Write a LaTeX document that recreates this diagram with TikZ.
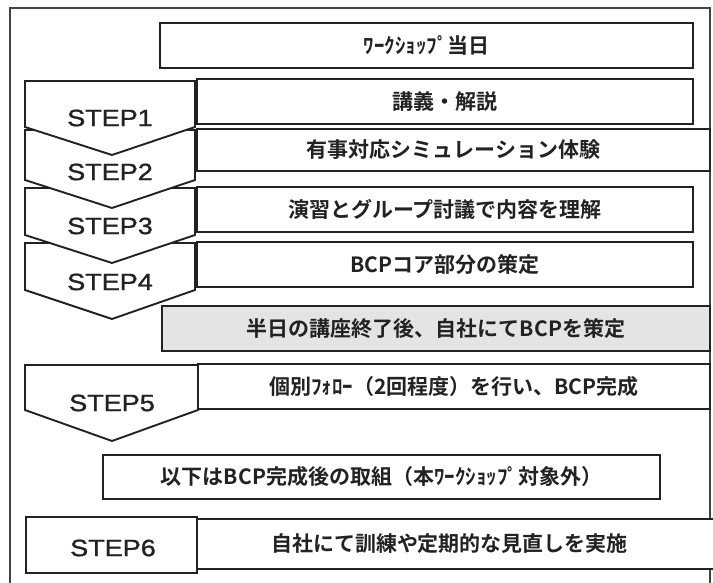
\documentclass[tikz,border=0pt]{standalone}
\usepackage{fontspec}
\newfontfamily\jp{Noto Sans CJK JP}[BoldFont={* Bold}]
\newfontfamily\stepfont{Liberation Sans}[FakeStretch=1.15,FakeBold=1.3]
\usetikzlibrary{shadows}
\definecolor{ink}{HTML}{222222}
\definecolor{halfgray}{HTML}{E4E4E4}
\begin{document}
\begin{tikzpicture}[x=1pt,y=-1pt,
  txtbox/.style={draw=ink, line width=2pt, fill=white, inner sep=0pt,
    font=\jp\bfseries\fontsize{21}{24}\selectfont, text=ink,
    drop shadow={shadow xshift=1.4pt, shadow yshift=-1.4pt, fill=ink, opacity=1}},
  chevron/.style={draw=ink, line width=1.9pt, fill=white, line join=miter},
  steplabel/.style={inner sep=0pt, text=ink, font=\stepfont\fontsize{23.5}{26}\selectfont},
  frameline/.style={draw=ink!85, line width=1.5pt}]
\useasboundingbox (0,0) rectangle (713,583);
\clip (0,0) rectangle (713,583);
\fill[white] (0,0) rectangle (713,583);
% outer frame
\draw[frameline] (10,600) -- (10,8) -- (710,8) -- (710,600);
% text boxes
\node[txtbox, minimum width=533pt, minimum height=45pt] (top) at (426.5,45.5) {ﾜｰｸｼｮｯﾌﾟ当日};
\node[txtbox, minimum width=496pt, minimum height=45pt] (b1) at (445,101.5) {講義・解説};
\node[txtbox, minimum width=513pt, minimum height=42pt] (b2) at (453.5,150) {有事対応シミュレーション体験};
\node[txtbox, minimum width=496pt, minimum height=45pt] (b3) at (445,209.5) {演習とグループ討議で内容を理解};
\node[txtbox, minimum width=496pt, minimum height=45pt] (b4) at (445,264.5) {BCPコア部分の策定};
\node[txtbox, fill=halfgray, minimum width=548pt, minimum height=45pt] (half) at (436,328.5) {半日の講座終了後、自社にてBCPを策定};
\node[txtbox, minimum width=512pt, minimum height=45pt] (b5) at (454,386.5) {個別ﾌｫﾛｰ（2回程度）を行い、BCP完成};
\node[txtbox, minimum width=557pt, minimum height=44pt] (ika) at (381.5,477) {以下はBCP完成後の取組（本ﾜｰｸｼｮｯﾌﾟ対象外）};
\node[txtbox, minimum width=519pt, minimum height=50pt, text width=505pt, align=center] (b6) at (456.5,544) {\hspace*{-14pt}自社にて訓練や定期的な見直しを実施};
% step chevrons (drawn bottom-up so upper ones overlap)
\draw[chevron] (25,243) -- (195,243) -- (195,290) -- (112,319) -- (25,290) -- cycle;
\draw[chevron] (25,188) -- (195,188) -- (195,235) -- (112,263) -- (25,235) -- cycle;
\draw[chevron] (25,130) -- (195,130) -- (195,180) -- (112,208) -- (25,180) -- cycle;
\draw[chevron] (25,81) -- (195,81) -- (195,127) -- (112,155) -- (25,127) -- cycle;
\draw[chevron] (25,365) -- (198,365) -- (198,410) -- (112,441) -- (25,410) -- cycle;
\draw[chevron] (26,517) rectangle (197,573);
% step labels
\node[steplabel] (s1) at (110,118) {STEP1};
\node[steplabel] (s2) at (110,172) {STEP2};
\node[steplabel] (s3) at (110,226) {STEP3};
\node[steplabel] (s4) at (110,282) {STEP4};
\node[steplabel] (s5) at (112,403) {STEP5};
\node[steplabel] (s6) at (113,548) {STEP6};
\end{tikzpicture}
\end{document}
